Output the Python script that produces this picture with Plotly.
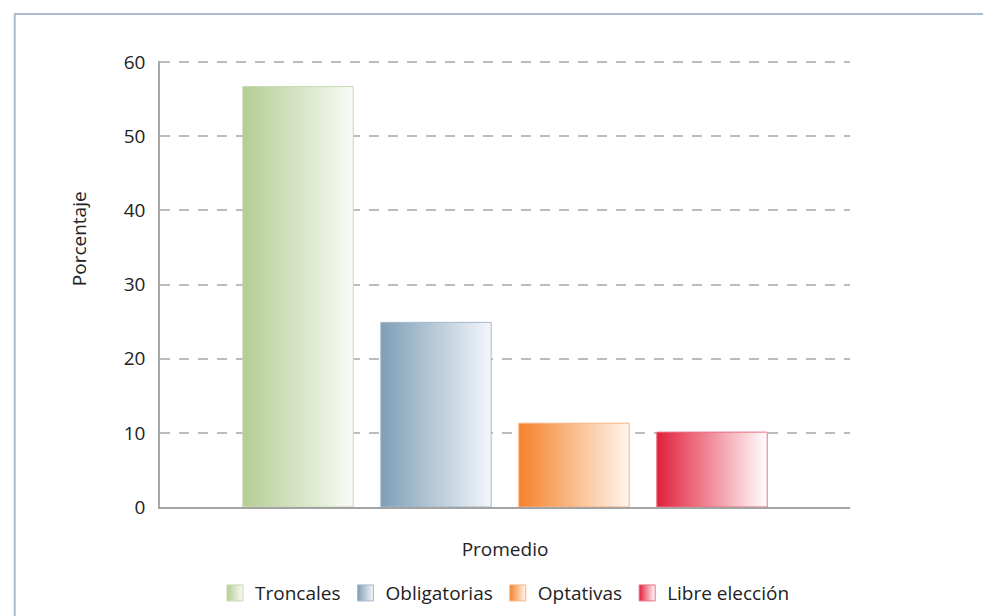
import plotly.graph_objects as go

# ---- data ----
series = ["Troncales", "Obligatorias", "Optativas", "Libre elección"]
values = [56.7, 24.9, 11.3, 10.1]
category = "Promedio"
y_ticks = [0, 10, 20, 30, 40, 50, 60]

# ---- styles ----
start_colors = ["#b3cd94", "#7f9fb7", "#f5822a", "#e2203a"]
end_colors = ["#f9fbf6", "#f3f6fa", "#fff6ee", "#ffffff"]
border_colors = ["#c6dab0", "#a3b9cc", "#f8b380", "#ec7080"]

FONT = "Open Sans"
FS = 19
bargap = 0.2        # outer gap of the category
bargroupgap = 0.2   # gap between bars inside the group

fig = go.Figure()

n = len(series)
slot = (1 - bargap) / n
for i, (name, v) in enumerate(zip(series, values)):
    c = bargap / 2 + slot * (i + 0.5)
    half = slot * (1 - bargroupgap) / 2
    x0, x1 = c - half, c + half
    fig.add_trace(go.Scatter(
        x=[x0, x0, x1, x1, x0],
        y=[0, v, v, 0, 0],
        mode="lines",
        fill="toself",
        fillgradient=dict(type="horizontal",
                          colorscale=[[0, start_colors[i]], [1, end_colors[i]]]),
        line=dict(color=border_colors[i], width=1),
        name=name,
        legendgroup=name,
        showlegend=False,
        hovertemplate=f"{name}: %{{y}}<extra></extra>",
    ))
    # legend entry
    fig.add_trace(go.Scatter(
        x=[None], y=[None],
        mode="markers",
        marker=dict(symbol="square", size=16, color=start_colors[i],
                    gradient=dict(type="horizontal", color=end_colors[i]),
                    line=dict(color=border_colors[i], width=1)),
        name=name,
        legendgroup=name,
        showlegend=True,
    ))

fig.update_layout(
    width=991, height=616,
    margin=dict(l=152, r=149, t=53, b=117),
    paper_bgcolor="white",
    plot_bgcolor="white",
    font=dict(family=FONT, size=FS, color="#222222"),
    showlegend=True,
    legend=dict(orientation="h", x=0.5, xanchor="center", y=-0.193, yanchor="middle",
                font=dict(size=FS, color="#222222"), itemwidth=30, traceorder="normal"),
    xaxis=dict(range=[0, 1], showgrid=False, zeroline=False,
               showline=True, linecolor="#a3a3a3", linewidth=2,
               tickvals=[0.5], ticktext=[category], ticks="",
               ticklabelstandoff=24, fixedrange=True),
    yaxis=dict(range=[0, 60.15], tickvals=y_ticks, showgrid=True,
               gridcolor="#bcbcbc", gridwidth=1.5, griddash="10px,9px",
               zeroline=False, showline=True, linecolor="#a8a8a8", linewidth=1.5,
               ticks="", ticklabelstandoff=9, fixedrange=True),
    annotations=[dict(text="Porcentaje", textangle=-90, xref="paper", yref="paper",
                      x=-0.117, y=0.601, xanchor="center", yanchor="middle",
                      showarrow=False, font=dict(size=FS, color="#222222"))],
    shapes=[dict(type="rect", xref="paper", yref="paper",
                 x0=-0.2105, x1=1.25, y0=-0.30, y1=1.1056,
                 line=dict(color="#a9bccd", width=2), fillcolor="rgba(0,0,0,0)",
                 layer="below")],
)

fig.write_html("out.html")
